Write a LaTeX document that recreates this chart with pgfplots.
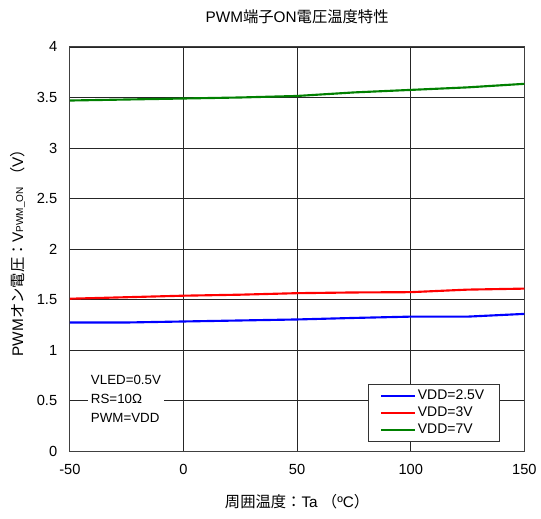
\documentclass[border=0pt]{standalone}
\usepackage{pgfplots}
\pgfplotsset{compat=1.18}
\usepackage{fontspec}
\setmainfont{Liberation Sans}
\newfontfamily\cjk{Noto Sans CJK JP}
\definecolor{cblue}{RGB}{0,0,255}
\definecolor{cred}{RGB}{255,0,0}
\definecolor{cgreen}{RGB}{0,128,0}
\begin{document}
\begin{tikzpicture}[x=1pt,y=1pt]
\begin{axis}[
  scale only axis,
  width=341.25pt, height=303.75pt,
  xmin=-50, xmax=150, ymin=0, ymax=4,
  xtick={-50,0,50,100,150},
  ytick={0,0.5,1,1.5,2,2.5,3,3.5,4},
  yticklabel style={/pgf/number format/fixed, xshift=-6pt},
  xticklabel style={yshift=-6pt},
  /pgf/number format/assume math mode=true,
  ticklabel style={font=\fontsize{11}{12}\selectfont},
  grid=major,
  major grid style={black!85, line width=0.6pt},
  axis line style={black!75, line width=0.7pt},
  tick style={draw=none},
  clip=false,
  title={\fontsize{11.5}{13}\selectfont PWM{\cjk 端子}ON{\cjk 電圧温度特性}},
  title style={at={(0.5,1)}, above, yshift=8pt},
  xlabel={\fontsize{11.5}{13}\selectfont {\cjk 周囲温度：}Ta {\cjk （}ºC{\cjk ）}},
  xlabel style={yshift=-8pt},
  ylabel={\fontsize{11.5}{13}\selectfont PWM{\cjk オン電圧：}V{\fontsize{7.5}{8}\selectfont PWM\_ON} {\cjk （}V{\cjk ）}},
  ylabel style={yshift=2pt},
  legend style={at={(rel axis cs:0.945,0.025)}, anchor=south east, draw=black!80, line width=0.6pt, fill=white,
     font=\fontsize{10.5}{11}\selectfont, row sep=0pt, inner xsep=9pt, inner ysep=2pt},
  legend cell align=left,
  legend image code/.code={\fill[#1] (0pt,-0.75pt) rectangle (26pt,0.75pt);},
]
\addlegendimage{fill=cblue, draw=none}
\addlegendentry{VDD=2.5V}
\addlegendimage{fill=cred, draw=none}
\addlegendentry{VDD=3V}
\addlegendimage{fill=cgreen, draw=none}
\addlegendentry{VDD=7V}
\addplot[cblue, line width=1.6pt, forget plot] coordinates {
(-50,1.275) (-25,1.275) (0,1.285) (25,1.295) (50,1.305) (75,1.32) (100,1.333) (125,1.333) (150,1.36)};
\addplot[cred, line width=1.6pt, forget plot] coordinates {
(-50,1.51) (-25,1.525) (0,1.54) (25,1.55) (50,1.565) (75,1.572) (100,1.575) (125,1.60) (150,1.61)};
\addplot[cgreen, line width=1.6pt, forget plot] coordinates {
(-50,3.47) (-25,3.48) (0,3.49) (25,3.50) (50,3.515) (75,3.55) (100,3.575) (125,3.60) (150,3.635)};
\node[fill=white, align=left, anchor=north west, inner sep=2pt, font=\fontsize{10}{14}\selectfont]
  at (rel axis cs:0.04,0.195) {VLED=0.5V\\RS=10Ω\\PWM=VDD};
\path (rel axis cs:-0.1538,-0.1654) rectangle (rel axis cs:1.0352,1.116);
\end{axis}
\end{tikzpicture}
\end{document}
